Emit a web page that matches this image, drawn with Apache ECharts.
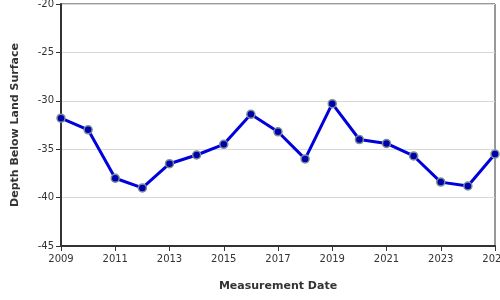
<!DOCTYPE html>
<html><head><meta charset="utf-8">
<script src="https://cdn.jsdelivr.net/npm/echarts@6/dist/echarts.min.js"></script>
<style>html,body{margin:0;padding:0;background:#fff}#c{width:500px;height:300px}</style>
</head><body><div id="c"></div>
<script>
var years = ['2009','2010','2011','2012','2013','2014','2015','2016','2017','2018','2019','2020','2021','2022','2023','2024','2025'];
var depth = [-31.8,-33.0,-38.0,-39.0,-36.5,-35.6,-34.5,-31.4,-33.2,-36.0,-30.3,-34.0,-34.4,-35.7,-38.4,-38.8,-35.5];
var yMin = -45, yMax = -20, yStep = 5;

var chart = echarts.init(document.getElementById('c'), null, {renderer:'canvas'});
chart.setOption({
  animation: false,
  grid: {left: 61, right: 5, top: 4, bottom: 54, show: true, borderColor: '#333', borderWidth: 1, backgroundColor: '#fff', containLabel: false, outerBoundsMode: 'none'},
  xAxis: {
    type: 'category', data: years, boundaryGap: false,
    name: 'Measurement Date', nameLocation: 'middle', nameGap: 35,
    nameTextStyle: {fontFamily: 'DejaVu Sans', fontWeight: 'bold', fontSize: 11, color: '#333'},
    axisLine: {lineStyle: {color: '#333', width: 2}},
    axisTick: {interval: 1, length: 5, lineStyle: {color: '#333'}},
    axisLabel: {interval: 1, fontFamily: 'DejaVu Sans', fontSize: 10, color: '#333', margin: 8, hideOverlap: false},
    splitLine: {show: false}
  },
  yAxis: {
    type: 'value', min: yMin, max: yMax, interval: yStep,
    name: 'Depth Below Land Surface', nameLocation: 'middle', nameGap: 40,
    nameTextStyle: {fontFamily: 'DejaVu Sans', fontWeight: 'bold', fontSize: 11, color: '#333'},
    axisLine: {show: true, lineStyle: {color: '#333', width: 2}},
    axisTick: {show: true, length: 5, lineStyle: {color: '#333'}},
    axisLabel: {fontFamily: 'DejaVu Sans', fontSize: 10, color: '#333', margin: 7},
    splitLine: {lineStyle: {color: '#d8d8d8', width: 1}}
  },
  series: [{
    type: 'line', data: depth,
    lineStyle: {color: '#0000dd', width: 3},
    symbol: 'circle', symbolSize: 8,
    itemStyle: {color: '#0000b0', borderColor: '#7a9090', borderWidth: 1.5}
  }]
});
</script></body></html>
